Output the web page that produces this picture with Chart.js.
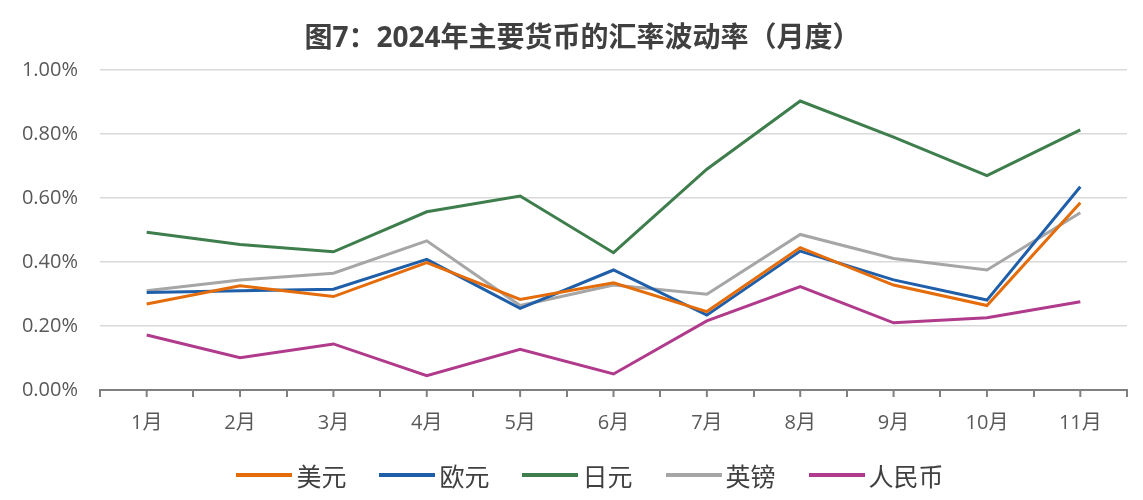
<!DOCTYPE html>
<html lang="zh">
<head>
<meta charset="UTF-8">
<title>图7</title>
<script src="https://cdn.jsdelivr.net/npm/chart.js"></script>
<style>
  body { margin: 0; background: #fff; }
  .wrap { position: relative; width: 1143px; height: 500px; }
  .title {
    position: absolute; left: 0; top: 17px; width: 1143px; padding: 0 16px 0 38px; box-sizing: border-box;
    text-align: center; font-family: "Open Sans", "Noto Sans CJK SC", sans-serif; font-weight: bold;
    font-size: 28px; line-height: 38px; color: #404040;
  }
  .legend {
    position: absolute; left: 0; top: 459px; width: 1143px; padding-left: 37px; box-sizing: border-box;
    display: flex; justify-content: center; gap: 33px;
    font-family: "Noto Sans CJK SC", sans-serif; font-size: 25px; color: #404040; line-height: 32px;
  }
  .legend .item { display: flex; align-items: center; gap: 4px; }
  .legend .swatch { width: 56px; height: 4px; }
</style>
</head>
<body>
<div class="wrap">
  <canvas id="chart"></canvas>
  <div class="title">图7：2024年主要货币的汇率波动率（月度）</div>
  <div class="legend" id="legend"></div>
</div>
<script>
const months = ['1月', '2月', '3月', '4月', '5月', '6月', '7月', '8月', '9月', '10月', '11月'];
const usd = [0.269, 0.326, 0.292, 0.398, 0.283, 0.335, 0.245, 0.445, 0.328, 0.264, 0.585];
const eur = [0.305, 0.310, 0.315, 0.408, 0.255, 0.375, 0.234, 0.434, 0.344, 0.281, 0.635];
const jpy = [0.493, 0.455, 0.432, 0.557, 0.606, 0.429, 0.690, 0.903, 0.790, 0.670, 0.813];
const gbp = [0.310, 0.344, 0.365, 0.466, 0.264, 0.328, 0.299, 0.486, 0.411, 0.375, 0.554];
const cny = [0.172, 0.101, 0.144, 0.045, 0.127, 0.050, 0.216, 0.323, 0.210, 0.226, 0.276];
const yTicks = [0, 0.2, 0.4, 0.6, 0.8, 1.0];

const FONT = '"Open Sans", "Noto Sans CJK SC", sans-serif';

// extra tick marks at category centres (library draws the boundary ticks)
const centreTicks = {
    id: 'centreTicks',
    afterDraw(chart) {
        const x = chart.scales.x, ctx = chart.ctx;
        ctx.save();
        ctx.strokeStyle = '#808080';
        ctx.lineWidth = 2;
        months.forEach((m, i) => {
            const px = x.getPixelForValue(i);
            ctx.beginPath();
            ctx.moveTo(px, x.top);
            ctx.lineTo(px, x.top + 7);
            ctx.stroke();
        });
        ctx.restore();
    }
};

function ds(label, data, color) {
    return { label, data, borderColor: color, backgroundColor: color, borderWidth: 3, pointRadius: 0, tension: 0 };
}

const chart = new Chart(document.getElementById('chart'), {
    type: 'line',
    data: {
        labels: months,
        datasets: [
            ds('美元', usd, '#E46C0A'),
            ds('欧元', eur, '#1F5EA8'),
            ds('日元', jpy, '#3E7D4C'),
            ds('英镑', gbp, '#A6A6A6'),
            ds('人民币', cny, '#B03A8C')
        ]
    },
    options: {
        responsive: true,
        maintainAspectRatio: false,
        animation: false,
        layout: { padding: { left: 0, right: 16, top: 70, bottom: 60 } },
        plugins: {
            title: { display: false },
            legend: { display: false },
            tooltip: { enabled: false }
        },
        scales: {
            x: {
                offset: true,
                afterFit(s) { s.height = 50; },
                grid: { offset: true, drawOnChartArea: false, drawTicks: true, tickLength: 7, color: '#808080', lineWidth: 2 },
                border: { display: true, color: '#808080', width: 2 },
                ticks: { color: '#595959', font: { family: FONT, size: 20 }, padding: 14, maxRotation: 0 }
            },
            y: {
                min: 0, max: 1,
                afterFit(s) { s.width = 100; },
                afterBuildTicks(s) { s.ticks = yTicks.map(v => ({ value: v })); },
                grid: { color: '#D9D9D9', lineWidth: 1.5, drawTicks: false },
                border: { display: false },
                ticks: {
                    color: '#595959', font: { family: FONT, size: 20 }, padding: 22,
                    callback: v => v.toFixed(2) + '%'
                }
            }
        }
    },
    plugins: [centreTicks]
});

// legend built from the chart's datasets
const legend = document.getElementById('legend');
chart.data.datasets.forEach(d => {
    const item = document.createElement('div');
    item.className = 'item';
    const sw = document.createElement('span');
    sw.className = 'swatch';
    sw.style.background = d.borderColor;
    const txt = document.createElement('span');
    txt.textContent = d.label;
    item.appendChild(sw);
    item.appendChild(txt);
    legend.appendChild(item);
});
</script>
</body>
</html>
